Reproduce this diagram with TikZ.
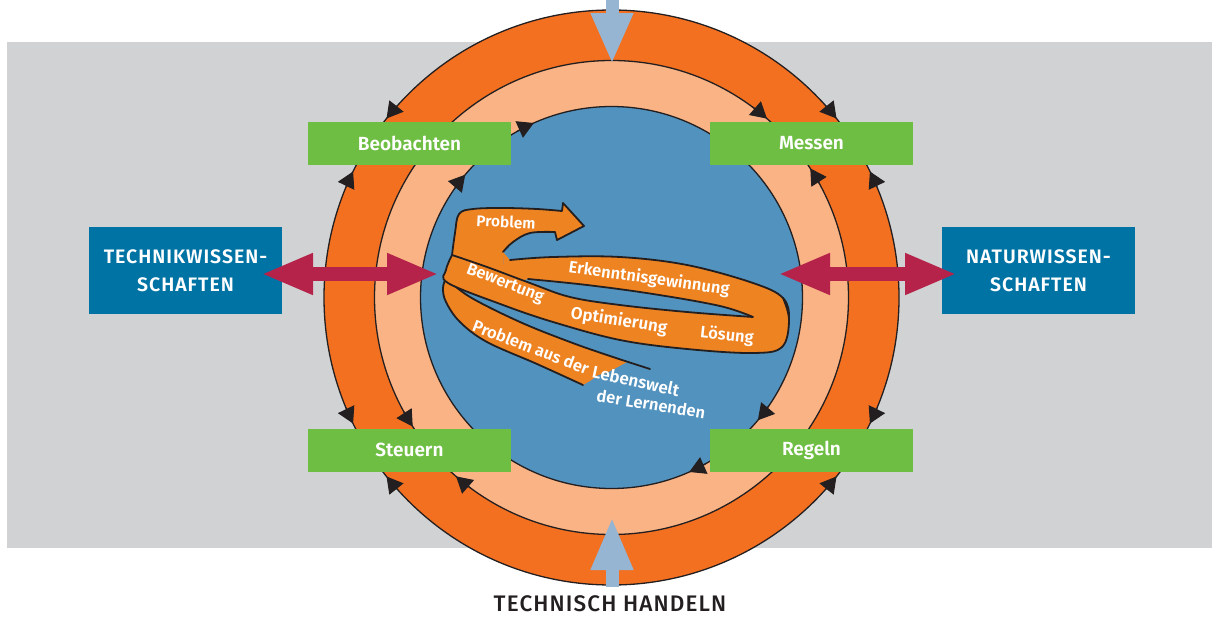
\documentclass[tikz,border=0pt]{standalone}
\usepackage{fontspec}
\setmainfont{Fira Sans}[BoldFont={Fira Sans SemiBold}]
\newfontfamily\medfont{Fira Sans Medium}
\usetikzlibrary{arrows.meta}
\definecolor{bggray}{RGB}{209,210,212}
\definecolor{outor}{RGB}{243,112,33}
\definecolor{peach}{RGB}{249,179,132}
\definecolor{cblue}{RGB}{82,146,190}
\definecolor{spor}{RGB}{238,131,34}
\definecolor{bgreen}{RGB}{111,190,68}
\definecolor{dblue}{RGB}{0,115,165}
\definecolor{crim}{RGB}{181,35,74}
\definecolor{lblue}{RGB}{149,181,211}
\definecolor{ink}{RGB}{35,31,32}
\begin{document}
\begin{tikzpicture}[x=1pt,y=-1pt,
  ringc/.style={draw=ink, line width=1.3pt},
  cyc/.style={draw=ink, line width=1.1pt, -{Triangle[length=16pt,width=18pt]}},
  gbox/.style={fill=bgreen, text=white, font=\fontsize{19}{22}\selectfont\bfseries, minimum width=203pt, minimum height=43pt, inner sep=0pt},
  bbox/.style={fill=dblue, text=white, font=\fontsize{19.5}{28}\selectfont\bfseries\addfontfeatures{LetterSpace=5}, minimum width=193pt, minimum height=87pt, inner sep=0pt, align=center},
  dbl/.style={crim, line width=14pt, {Triangle[length=52pt,width=38pt]}-{Triangle[length=52pt,width=38pt]}},
  inarrow/.style={lblue, line width=13pt},
  spt/.style={text=white, font=\fontsize{16.5}{16.5}\selectfont\bfseries, inner sep=0pt},
  rim/.style={draw=ink, line width=1.8pt, line cap=round, line join=round},
]
\useasboundingbox (0,0) rectangle (1212,616);
\fill[bggray] (7,42) rectangle (1212,548);

% rings
\coordinate (O) at (611.5,297.5);
\path[ringc, fill=outor] (O) circle[radius=287.5];
\path[ringc, fill=peach] (O) circle[radius=237];
\path[ringc, fill=cblue] (O) circle[radius=191];

% arrowheads on the outer ring
\draw[cyc] ([shift={(O)}]222:287.5) arc[start angle=222,end angle=218.5,radius=287.5];
\draw[cyc] ([shift={(O)}]202.5:287.5) arc[start angle=202.5,end angle=206,radius=287.5];
\draw[cyc] ([shift={(O)}]-42:287.5) arc[start angle=-42,end angle=-38.5,radius=287.5];
\draw[cyc] ([shift={(O)}]-22.5:287.5) arc[start angle=-22.5,end angle=-26,radius=287.5];
\draw[cyc] ([shift={(O)}]157.5:287.5) arc[start angle=157.5,end angle=154,radius=287.5];
\draw[cyc] ([shift={(O)}]138:287.5) arc[start angle=138,end angle=141.5,radius=287.5];
\draw[cyc] ([shift={(O)}]22.5:287.5) arc[start angle=22.5,end angle=26,radius=287.5];
\draw[cyc] ([shift={(O)}]42:287.5) arc[start angle=42,end angle=38.5,radius=287.5];
% arrowheads on the peach ring
\draw[cyc] ([shift={(O)}]-53.5:237) arc[start angle=-53.5,end angle=-49,radius=237];
\draw[cyc] ([shift={(O)}]-28.5:237) arc[start angle=-28.5,end angle=-33,radius=237];
\draw[cyc] ([shift={(O)}]151.5:237) arc[start angle=151.5,end angle=147,radius=237];
\draw[cyc] ([shift={(O)}]126.5:237) arc[start angle=126.5,end angle=131,radius=237];
% arrowheads on the blue circle
\draw[cyc] ([shift={(O)}]214.5:191) arc[start angle=214.5,end angle=220,radius=191];
\draw[cyc] ([shift={(O)}]240.5:191) arc[start angle=240.5,end angle=246,radius=191];
\draw[cyc] ([shift={(O)}]34.5:191) arc[start angle=34.5,end angle=40,radius=191];
\draw[cyc] ([shift={(O)}]60.5:191) arc[start angle=60.5,end angle=66,radius=191];

% light blue arrows
\coordinate (ttop) at (612,-3);
\coordinate (ttip) at (612,64);
\draw[inarrow, -{Triangle[length=51pt,width=39pt]}] (ttop) -- (ttip);
\coordinate (bbot) at (612,587);
\coordinate (btip) at (612,517);
\draw[inarrow, -{Triangle[length=53pt,width=39pt]}] (bbot) -- (btip);

% green boxes
\node[gbox] (beob) at (409.5,143.5) {Beobachten};
\node[gbox] (mess) at (811.5,143.5) {Messen};
\node[gbox] (steu) at (409.5,450) {Steuern};
\node[gbox] (rege) at (811.5,450) {Regeln};

% spiral ribbon
% top band (Problem arrow)
\fill[spor] plot[smooth,tension=0.6] coordinates {(459,214) (473,209) (503,208) (537,209) (562,211)} -- (563,203) -- (584,226) -- (557,240) -- plot[smooth,tension=0.6] coordinates {(555,232) (530,233) (513,242) (503,252)} -- (505,285) -- (450,270) -- plot[smooth,tension=0.6] coordinates {(452,255) (455,233) (459,214)} -- cycle;
\draw[rim] plot[smooth,tension=0.6] coordinates {(452,255) (455,233) (459,214) (473,209) (503,208) (537,209) (562,211)} -- (563,203) -- (584,226) -- (557,240) -- plot[smooth,tension=0.6] coordinates {(555,232) (530,233) (513,242) (503,252)};
% back band
\fill[spor] (503,252) -- plot[smooth,tension=0.6] coordinates {(510,260) (553,257) (620,257) (687,265) (753,283) (783,298) (789,320) (782,347)} -- (753,317) -- plot[smooth,tension=0.6] coordinates {(720,306) (653,294) (587,285) (528,279)} -- (505,285) -- cycle;
\draw[rim] plot[smooth,tension=0.6] coordinates {(510,260) (553,257) (620,257) (687,265) (753,283) (783,298) (789,320) (782,347)};
\draw[rim] plot[smooth,tension=0.6] coordinates {(753,317) (720,306) (653,294) (587,285) (528,279)};
% bottom band
\fill[spor] plot[smooth,tension=0.6] coordinates {(446,278) (470,297) (520,322) (570,342) (610,356) (627,362)} -- (616,368) -- (606,373) -- (598,375) -- (590,381) -- plot[smooth,tension=0.6] coordinates {(583,385) (537,364) (487,342) (460,322) (446,302) (443,288)} -- cycle;
\draw[rim] plot[smooth,tension=0.6] coordinates {(446,278) (470,297) (520,322) (570,342) (610,356) (650,369)};
\draw[rim] plot[smooth,tension=0.6] coordinates {(583,385) (537,364) (487,342) (460,322) (446,302) (443,288) (446,278)};
% front band
\fill[spor] plot[smooth,tension=0.6] coordinates {(452,255) (487,267) (530,283) (570,297) (620,305) (687,312) (753,317)} -- (775,305) -- plot[smooth,tension=0.6] coordinates {(783,298) (789,320) (782,347) (753,353) (687,349) (620,340) (553,322) (503,305) (448,283) (446,270) (452,255)} -- cycle;
\draw[rim] plot[smooth,tension=0.6] coordinates {(452,255) (487,267) (530,283) (570,297) (620,305) (687,312) (753,317)};
\draw[rim] plot[smooth,tension=0.6] coordinates {(783,298) (789,320) (782,347) (753,353) (687,349) (620,340) (553,322) (503,305) (448,283) (446,270) (452,255)};

% spiral texts
\node[spt, font=\fontsize{15.5}{15.5}\selectfont\bfseries, rotate=-3] (s1) at (506,222) {Problem};
\node[spt, rotate=-8] (s2) at (649,279) {Erkenntnisgewinnung};
\node[spt, rotate=-21] (s3) at (505,284) {Bewertung};
\node[spt, font=\fontsize{17}{17}\selectfont\bfseries, rotate=-9] (s4) at (619,321) {Optimierung};
\node[spt, rotate=-6] (s5) at (727,336) {Lösung};
\node[spt, rotate=-21] (s6) at (531,347) {Problem aus der};
\node[spt, font=\fontsize{17}{17}\selectfont\bfseries, rotate=-12] (s7) at (636,381) {Lebenswelt};
\node[spt, rotate=-9] (s8) at (651,404) {der Lernenden};

% blue boxes
\node[bbox] (tech) at (185.5,270.5) {TECHNIKWISSEN-\\SCHAFTEN};
\node[bbox] (natu) at (1038.5,270.5) {NATURWISSEN-\\SCHAFTEN};

% double arrows
\coordinate (la) at (261,274);
\coordinate (lb) at (439,274);
\coordinate (ra) at (778,274);
\coordinate (rb) at (957,274);
\draw[dbl] (la) -- (lb);
\draw[dbl] (ra) -- (rb);

% bottom label
\node[font=\fontsize{22.5}{22.5}\medfont\addfontfeatures{LetterSpace=5}, text=ink, inner sep=0pt] (th) at (610,603.5) {TECHNISCH HANDELN};
\end{tikzpicture}
\end{document}
